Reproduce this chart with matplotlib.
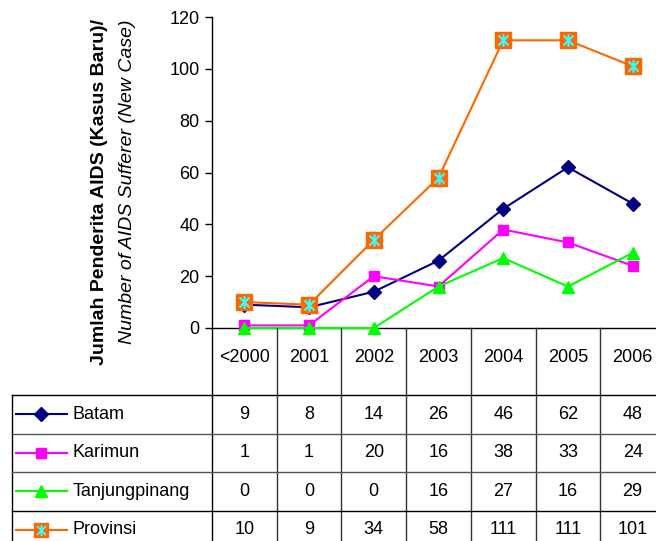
import matplotlib.pyplot as plt
from matplotlib.path import Path
from matplotlib.transforms import blended_transform_factory

plt.rcParams['font.family'] = ['Liberation Sans', 'DejaVu Sans']

years = ['<2000', '2001', '2002', '2003', '2004', '2005', '2006']
batam = [9, 8, 14, 26, 46, 62, 48]
karimun = [1, 1, 20, 16, 38, 33, 24]
tanjungpinang = [0, 0, 0, 16, 27, 16, 29]
provinsi = [10, 9, 34, 58, 111, 111, 101]

names = ['Batam', 'Karimun', 'Tanjungpinang', 'Provinsi']
series = [batam, karimun, tanjungpinang, provinsi]
colors = ['#000080', '#FF00FF', '#00FF00', '#FF6600']
markers = ['D', 's', '^', 's']
msizes = [7, 7, 8, 12]

# excel-like asterisk: vertical bar plus an X
star = Path([(0, -1), (0, 1), (-0.8, -0.8), (0.8, 0.8), (-0.8, 0.8), (0.8, -0.8)],
            [Path.MOVETO, Path.LINETO, Path.MOVETO, Path.LINETO, Path.MOVETO, Path.LINETO])

W, H = 656, 541
fig = plt.figure(figsize=(W / 100, H / 100), dpi=100)

def fx(px):
    return px / W

def fy(py):
    return 1 - py / H

x0, x1 = 212, 665
ytop, ybot = 17, 328
ax = fig.add_axes([fx(x0), fy(ybot), fx(x1 - x0), (ybot - ytop) / H])
xs = list(range(len(years)))

for vals, c, m, ms in zip(series, colors, markers, msizes):
    ax.plot(xs, vals, color=c, marker=m, markersize=ms, markerfacecolor=c,
            markeredgecolor=c, linewidth=1.5, clip_on=False, zorder=3)
ax.plot(xs, provinsi, linestyle='none', marker=star, markersize=9,
        markeredgecolor='#33FFFF', markeredgewidth=1.6, clip_on=False, zorder=4)

ax.set_xlim(-0.5, len(years) - 0.5)
ax.set_ylim(0, 120)
ax.set_yticks(range(0, 121, 20))
ax.set_xticks([])
ax.tick_params(axis='y', direction='out', length=5, width=1, labelsize=13, pad=4)
for s in ['top', 'right']:
    ax.spines[s].set_visible(False)
ax.spines['left'].set_linewidth(1)
ax.spines['bottom'].set_linewidth(1)

fig.text(fx(100), fy(19), 'Jumlah Penderita AIDS (Kasus Baru)/', rotation=90,
         ha='center', va='top', fontsize=14, fontweight='bold')
fig.text(fx(127), fy(19), 'Number of AIDS Sufferer (New Case)', rotation=90,
         ha='center', va='top', fontsize=14, fontstyle='italic')

# data table below the chart
tr = blended_transform_factory(ax.transData, fig.transFigure)
head_bot = 395
row_h = 38.5
row_lines = [head_bot, head_bot + row_h, head_bot + 2 * row_h, head_bot + 3 * row_h]
line_cols = ['black', '#555555', '#555555', 'black']

fig.add_artist(plt.Line2D([fx(x0), fx(x0)], [fy(ybot), 0], color='black', lw=1))
for i in range(1, len(years)):
    fig.add_artist(plt.Line2D([i - 0.5, i - 0.5], [fy(ybot), 0], transform=tr,
                              color='#333333', lw=1))
fig.add_artist(plt.Line2D([fx(12), fx(12)], [fy(head_bot), 0], color='black', lw=1))
for yl, lc in zip(row_lines, line_cols):
    fig.add_artist(plt.Line2D([fx(12), 1], [fy(yl), fy(yl)], color=lc, lw=1))

for i, yr in enumerate(years):
    fig.text(i, fy(357), yr, transform=tr, ha='center', va='center', fontsize=13)

for r, (name, vals, c, m, ms) in enumerate(zip(names, series, colors, markers, msizes)):
    yc = fy(head_bot + row_h * (r + 0.5))
    fig.add_artist(plt.Line2D([fx(16), fx(67)], [yc, yc], color=c, lw=1.5))
    fig.add_artist(plt.Line2D([fx(41)], [yc], color=c, marker=m,
                              markersize=min(ms, 10), markerfacecolor=c, markeredgecolor=c))
    if name == 'Provinsi':
        fig.add_artist(plt.Line2D([fx(41)], [yc], linestyle='none', marker=star,
                                  markersize=8, markeredgecolor='#33FFFF',
                                  markeredgewidth=1.4))
    fig.text(fx(73), yc, name, ha='left', va='center', fontsize=13)
    for i, v in enumerate(vals):
        fig.text(i, yc, str(v), transform=tr, ha='center', va='center', fontsize=13)

fig.savefig('out.png', dpi=100)
